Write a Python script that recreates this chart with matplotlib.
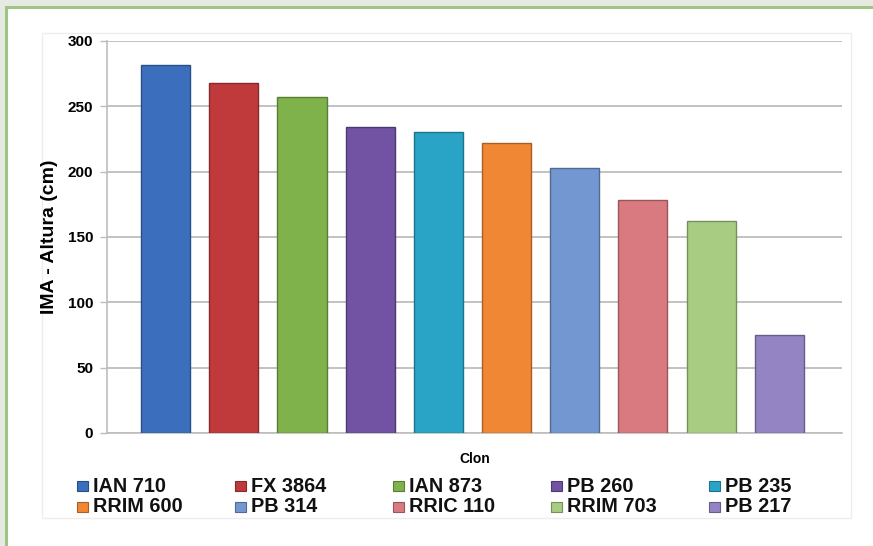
import matplotlib
matplotlib.use("Agg")
import matplotlib.pyplot as plt
from matplotlib.patches import Rectangle
from matplotlib.colors import to_rgb
import numpy as np

plt.rcParams['font.family'] = ['Liberation Sans', 'DejaVu Sans']

# Clones and their mean annual height increment (cm)
clones = ['IAN 710', 'FX 3864', 'IAN 873', 'PB 260', 'PB 235',
          'RRIM 600', 'PB 314', 'RRIC 110', 'RRIM 703', 'PB 217']
ima_altura = [282, 268, 257, 234, 230, 222, 203, 178, 162, 75]
colors = ['#3b6fbe', '#c03a3c', '#80b24b', '#7152a3', '#2aa4c6',
          '#f08734', '#7397d0', '#d97a80', '#a8cd82', '#9484c4']

yticks = [0, 50, 100, 150, 200, 250, 300]


def darker(c, f=0.7):
    r, g, b = to_rgb(c)
    return (r * f, g * f, b * f)


fig = plt.figure(figsize=(8.73, 5.46), dpi=100)
fig.patch.set_facecolor('#e6eae2')

# white card with green border, behind everything
fig.add_artist(Rectangle((6 / 873, -0.05), 1.0, 1 - 7 / 546 + 0.05,
                         transform=fig.transFigure, facecolor='white',
                         edgecolor='#9fc585', linewidth=2.2, zorder=-2))
# faint chart-area frame
fig.add_artist(Rectangle((42 / 873, 1 - 518 / 546), (851 - 42) / 873, (518 - 33) / 546,
                         transform=fig.transFigure, facecolor='none',
                         edgecolor='#ededed', linewidth=1, zorder=-1))

ax = fig.add_axes([107 / 873, 1 - 433 / 546, (842 - 107) / 873, (433 - 41) / 546])
ax.set_facecolor('none')

x = np.arange(len(clones))
ax.bar(x, ima_altura, width=0.72, color=colors,
       edgecolor=[darker(c) for c in colors], linewidth=1.0, zorder=3)

ax.set_xlim(-0.86, 9.92)
ax.set_ylim(0, 300)
ax.set_yticks(yticks)
ax.set_yticklabels([str(v) for v in yticks], fontsize=11, fontweight='bold')
ax.set_xticks([])
ax.yaxis.grid(True, color='#bdbdbd', linewidth=1.3, zorder=0)
ax.set_axisbelow(True)

for s in ['top', 'right']:
    ax.spines[s].set_visible(False)
for s in ['left', 'bottom']:
    ax.spines[s].set_color('#bdbdbd')
    ax.spines[s].set_linewidth(1.2)
ax.tick_params(axis='y', length=5, width=1.0, color='#bdbdbd', pad=5)

ax.set_ylabel('IMA - Altura (cm)', fontsize=14, fontweight='bold', labelpad=7)
ax.set_xlabel('Clon', fontsize=10, fontweight='bold', labelpad=14)

# legend: two rows of five
for i, (name, c) in enumerate(zip(clones, colors)):
    row, col = divmod(i, 5)
    x0 = (77 + col * 158) / 873
    yc = 1 - (486 + row * 21) / 546
    fig.add_artist(Rectangle((x0, yc - 5 / 546), 11 / 873, 10 / 546,
                             transform=fig.transFigure, facecolor=c,
                             edgecolor=darker(c), linewidth=0.8))
    fig.text(x0 + 16 / 873, yc, name, fontsize=14.3, fontweight='bold',
             va='center', ha='left', color='#111111')

fig.savefig('out.png', dpi=100, facecolor=fig.get_facecolor())
